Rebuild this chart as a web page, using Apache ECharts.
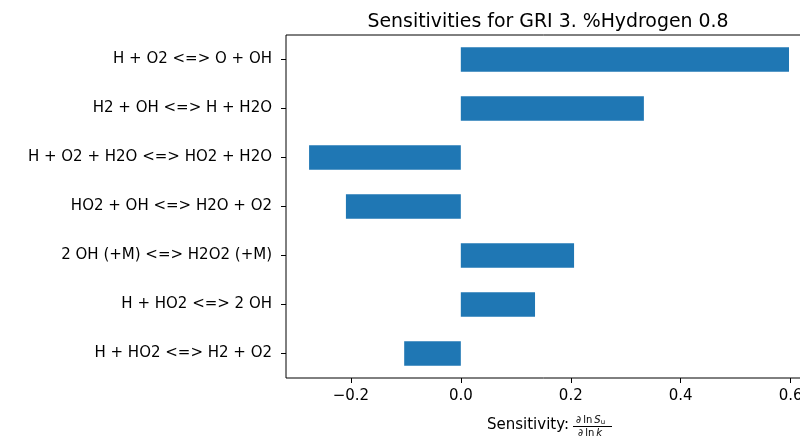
<!DOCTYPE html>
<html>
<head>
<meta charset="utf-8">
<script src="https://cdn.jsdelivr.net/npm/echarts@6/dist/echarts.min.js"></script>
<style>
html,body{margin:0;padding:0;background:#fff;}
#chart{width:800px;height:438px;}
</style>
</head>
<body>
<div id="chart"></div>
<script>
// Reactions, top to bottom
const reactions = [
  'H + O2 <=> O + OH',
  'H2 + OH <=> H + H2O',
  'H + O2 + H2O <=> HO2 + H2O',
  'HO2 + OH <=> H2O + O2',
  '2 OH (+M) <=> H2O2 (+M)',
  'H + HO2 <=> 2 OH',
  'H + HO2 <=> H2 + O2'
];
// Flame-speed sensitivity per reaction
const sensitivities = [0.597, 0.333, -0.276, -0.209, 0.206, 0.135, -0.103];
const xTicks = [-0.2, 0.0, 0.2, 0.4, 0.6];
// full x range; the frame runs on past the right edge of the canvas
const xMin = -0.318, xMax = 0.637;

const FONT = 'DejaVu Sans';
const chart = echarts.init(document.getElementById('chart'), null, {renderer: 'canvas'});

function fmt(v) {
  const s = Math.abs(v).toFixed(1);
  return v < -1e-9 ? '\u2212' + s : s;
}

chart.setOption({
  animation: false,
  backgroundColor: '#ffffff',
  title: {
    text: 'Sensitivities for GRI 3. %Hydrogen 0.8',
    left: 543, top: 8, textAlign: 'center',
    textStyle: {fontFamily: FONT, fontSize: 18.9, fontWeight: 'normal', color: '#000'}
  },
  grid: {
    left: 286, top: 35, bottom: 60, right: -11,
    outerBoundsMode: 'none', containLabel: false,
    show: true, borderColor: '#000', borderWidth: 1, backgroundColor: 'transparent'
  },
  xAxis: {
    type: 'value', min: xMin, max: xMax,
    splitLine: {show: false},
    axisLine: {show: false, onZero: false},
    axisTick: {show: true, length: 5, customValues: xTicks, lineStyle: {color: '#000', width: 1}},
    axisLabel: {
      customValues: xTicks, formatter: fmt, margin: 11,
      fontFamily: FONT, fontSize: 15, color: '#000'
    }
  },
  yAxis: {
    type: 'category', data: reactions, inverse: true, position: 'left',
    axisLine: {show: false, onZero: false},
    axisTick: {show: true, alignWithLabel: true, length: 5, lineStyle: {color: '#000', width: 1}},
    axisLabel: {margin: 14, fontFamily: FONT, fontSize: 15, color: '#000'}
  },
  series: [{
    type: 'bar', data: sensitivities, barWidth: '50%',
    itemStyle: {color: '#1f77b4'}
  }],
  graphic: [
    {type: 'text', x: 487, y: 425, style: {
      text: 'Sensitivity:', font: '15px "DejaVu Sans"', fill: '#000', verticalAlign: 'middle'
    }},
    {type: 'text', x: 576, y: 420, style: {
      text: '{a|\u2202\u2009ln\u2009}{i|S}{s|u}', fill: '#000', verticalAlign: 'middle',
      rich: {
        a: {fontFamily: FONT, fontSize: 10, fill: '#000'},
        i: {fontFamily: FONT, fontSize: 10, fontStyle: 'italic', fill: '#000'},
        s: {fontFamily: FONT, fontSize: 7, fill: '#000', padding: [5, 0, 0, 0]}
      }
    }},
    {type: 'line', shape: {x1: 573, y1: 426.5, x2: 612, y2: 426.5}, style: {stroke: '#000', lineWidth: 1}},
    {type: 'text', x: 578, y: 433, style: {
      text: '{a|\u2202\u2009ln\u2009}{i|k}', fill: '#000', verticalAlign: 'middle',
      rich: {
        a: {fontFamily: FONT, fontSize: 10, fill: '#000'},
        i: {fontFamily: FONT, fontSize: 10, fontStyle: 'italic', fill: '#000'}
      }
    }}
  ]
});
</script>
</body>
</html>
